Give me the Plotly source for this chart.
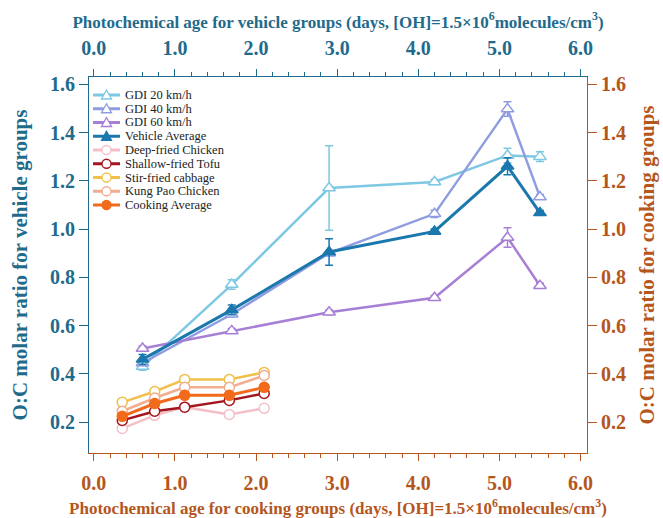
import plotly.graph_objects as go

# ---------------- data ----------------
veh_age = [0.6, 1.7, 2.9, 4.2, 5.1, 5.5]
gdi20 = [0.43, 0.77, 1.17, 1.195, 1.305, 1.30]
gdi20_err = [0.015, 0.02, 0.175, 0.01, 0.03, 0.02]
gdi40 = [0.445, 0.647, 0.90, 1.063, 1.497, 1.133]
gdi40_err = [0.01, 0.01, 0.01, 0.015, 0.03, 0.01]
gdi60 = [0.505, 0.578, 0.655, 0.715, 0.965, 0.765]
gdi60_err = [0.01, 0.01, 0.01, 0.01, 0.04, 0.01]
veh_avg = [0.46, 0.665, 0.905, 0.99, 1.26, 1.067]
veh_avg_err = [0.02, 0.02, 0.055, 0.01, 0.035, 0.01]

cook_age = [0.35, 0.75, 1.12, 1.67, 2.1]
deep_fried_chicken = [0.174, 0.228, 0.262, 0.232, 0.257]
shallow_fried_tofu = [0.207, 0.245, 0.262, 0.29, 0.319]
stir_fried_cabbage = [0.282, 0.327, 0.377, 0.377, 0.406]
kung_pao_chicken = [0.245, 0.30, 0.344, 0.344, 0.393]
cook_avg = [0.224, 0.277, 0.311, 0.311, 0.344]

x_ticks = [0, 1, 2, 3, 4, 5, 6]
x_ticktext = ["0.0", "1.0", "2.0", "3.0", "4.0", "5.0", "6.0"]
y_ticks = [0.2, 0.4, 0.6, 0.8, 1.0, 1.2, 1.4, 1.6]
y_ticktext = ["0.2", "0.4", "0.6", "0.8", "1.0", "1.2", "1.4", "1.6"]

TEAL = "#1f6b8c"
BROWN = "#b5561d"
FONT = "Liberation Serif"

W, H = 663, 518
ML, MR, MT, MB = 89, 76, 77, 65
PW, PH = W - ML - MR, H - MT - MB

fig = go.Figure()

veh_series = [
    ("GDI 20 km/h", gdi20, gdi20_err, "#7ec8e3", False),
    ("GDI 40 km/h", gdi40, gdi40_err, "#8f9de0", False),
    ("GDI 60 km/h", gdi60, gdi60_err, "#a77fd6", False),
    ("Vehicle Average", veh_avg, veh_avg_err, "#1b78ad", True),
]
for name, ys, err, col, filled in veh_series:
    fig.add_trace(go.Scatter(
        x=veh_age, y=ys, name=name, mode="lines+markers",
        xaxis="x2", yaxis="y", showlegend=False,
        line=dict(color=col, width=3 if filled else 2.5),
        marker=dict(symbol="triangle-up", size=11, color=col if filled else "white",
                    line=dict(color=col, width=1.5)),
        error_y=dict(type="data", array=err, color=col, thickness=1.5, width=4),
    ))

cook_series = [
    ("Deep-fried Chicken", deep_fried_chicken, "#f4c0c8", False),
    ("Shallow-fried Tofu", shallow_fried_tofu, "#a3161d", False),
    ("Stir-fried cabbage", stir_fried_cabbage, "#f0c04a", False),
    ("Kung Pao Chicken", kung_pao_chicken, "#f2ad8e", False),
    ("Cooking Average", cook_avg, "#f26a1b", True),
]
for name, ys, col, filled in cook_series:
    fig.add_trace(go.Scatter(
        x=cook_age, y=ys, name=name, mode="lines+markers",
        xaxis="x", yaxis="y", showlegend=False,
        line=dict(color=col, width=3 if filled else 2.5),
        marker=dict(symbol="circle", size=10, color=col if filled else "white",
                    line=dict(color=col, width=1.5)),
    ))

# empty trace so the right-hand axis is created
fig.add_trace(go.Scatter(x=[None], y=[None], xaxis="x", yaxis="y2",
                         showlegend=False, hoverinfo="skip"))

# ---------------- manual compact legend ----------------
def px_x(p):
    return (p - ML) / PW

def px_y(p):
    return (H - MB - p) / PH

legend_items = [(n, c, "tri", f) for n, _, _, c, f in veh_series] + \
               [(n, c, "circ", f) for n, _, c, f in cook_series]
row0, rowgap = 95, 13.75
for i, (name, col, kind, filled) in enumerate(legend_items):
    yc = row0 + i * rowgap
    fig.add_shape(type="line", xref="paper", yref="paper",
                  x0=px_x(93), x1=px_x(120), y0=px_y(yc), y1=px_y(yc),
                  line=dict(color=col, width=3))
    fc = col if filled else "white"
    cx = 106.5
    if kind == "tri":
        path = "M %f,%f L %f,%f L %f,%f Z" % (
            px_x(cx - 5), px_y(yc + 4), px_x(cx + 5), px_y(yc + 4), px_x(cx), px_y(yc - 5))
        fig.add_shape(type="path", xref="paper", yref="paper", path=path,
                      fillcolor=fc, line=dict(color=col, width=1.3))
    else:
        fig.add_shape(type="circle", xref="paper", yref="paper",
                      x0=px_x(cx - 4.5), x1=px_x(cx + 4.5), y0=px_y(yc + 4.5), y1=px_y(yc - 4.5),
                      fillcolor=fc, line=dict(color=col, width=1.3))
    fig.add_annotation(xref="paper", yref="paper", x=px_x(123), y=px_y(yc),
                       text=name, showarrow=False, xanchor="left", yanchor="middle",
                       font=dict(family=FONT, size=12.5, color="#222222"))

xr = [-0.06, 6.08]
yr = [0.072, 1.63]

tickfont_teal = dict(family=FONT, size=20, color=TEAL)
tickfont_brown = dict(family=FONT, size=20, color=BROWN)

fig.update_layout(
    width=W, height=H,
    margin=dict(l=ML, r=MR, t=MT, b=MB, autoexpand=False),
    paper_bgcolor="white", plot_bgcolor="white",
    font=dict(family=FONT),
    showlegend=False,
    xaxis=dict(
        range=xr, tickvals=x_ticks, ticktext=["<b>%s</b>" % t for t in x_ticktext],
        automargin=False,
        showgrid=False, zeroline=False, showline=True, linecolor=BROWN, linewidth=1,
        ticks="outside", ticklen=7, tickcolor=BROWN, tickwidth=1,
        ticklabelstandoff=5,
        minor=dict(dtick=0.2, tick0=0, ticks="outside", ticklen=4, tickcolor=BROWN, showgrid=False),
        tickfont=tickfont_brown,
        title=dict(text="<b>Photochemical age for cooking groups (days, [OH]=1.5×10<sup>6</sup>molecules/cm<sup>3</sup>)</b>",
                   font=dict(family=FONT, size=17, color=BROWN), standoff=9),
    ),
    xaxis2=dict(
        range=xr, tickvals=x_ticks, ticktext=["<b>%s</b>" % t for t in x_ticktext],
        overlaying="x", side="top", anchor="y", automargin=False,
        showgrid=False, zeroline=False, showline=True, linecolor=TEAL, linewidth=1,
        ticks="outside", ticklen=7, tickcolor=TEAL, tickwidth=1,
        ticklabelstandoff=6,
        minor=dict(dtick=0.2, tick0=0, ticks="outside", ticklen=4, tickcolor=TEAL, showgrid=False),
        tickfont=tickfont_teal,
        title=dict(text="<b>Photochemical age for vehicle groups (days, [OH]=1.5×10<sup>6</sup>molecules/cm<sup>3</sup>)</b>",
                   font=dict(family=FONT, size=17, color=TEAL), standoff=4),
    ),
    yaxis=dict(
        range=yr, tickvals=y_ticks, ticktext=["<b>%s</b>" % t for t in y_ticktext],
        automargin=False,
        showgrid=False, zeroline=False, showline=True, linecolor=TEAL, linewidth=1,
        ticks="outside", ticklen=9, tickcolor=TEAL, tickwidth=1,
        tickfont=tickfont_teal,
        title=dict(text="<b>O:C molar ratio for vehicle groups</b>",
                   font=dict(family=FONT, size=21, color=TEAL), standoff=16),
    ),
    yaxis2=dict(
        range=yr, tickvals=y_ticks, ticktext=["<b>%s</b>" % t for t in y_ticktext],
        overlaying="y", side="right", anchor="x", automargin=False,
        showgrid=False, zeroline=False, showline=True, linecolor=BROWN, linewidth=1,
        ticks="outside", ticklen=9, tickcolor=BROWN, tickwidth=1,
        tickfont=tickfont_brown,
        title=dict(text="<b>O:C molar ratio for cooking groups</b>",
                   font=dict(family=FONT, size=21, color=BROWN), standoff=14),
    ),
)

fig.write_html("out.html")
